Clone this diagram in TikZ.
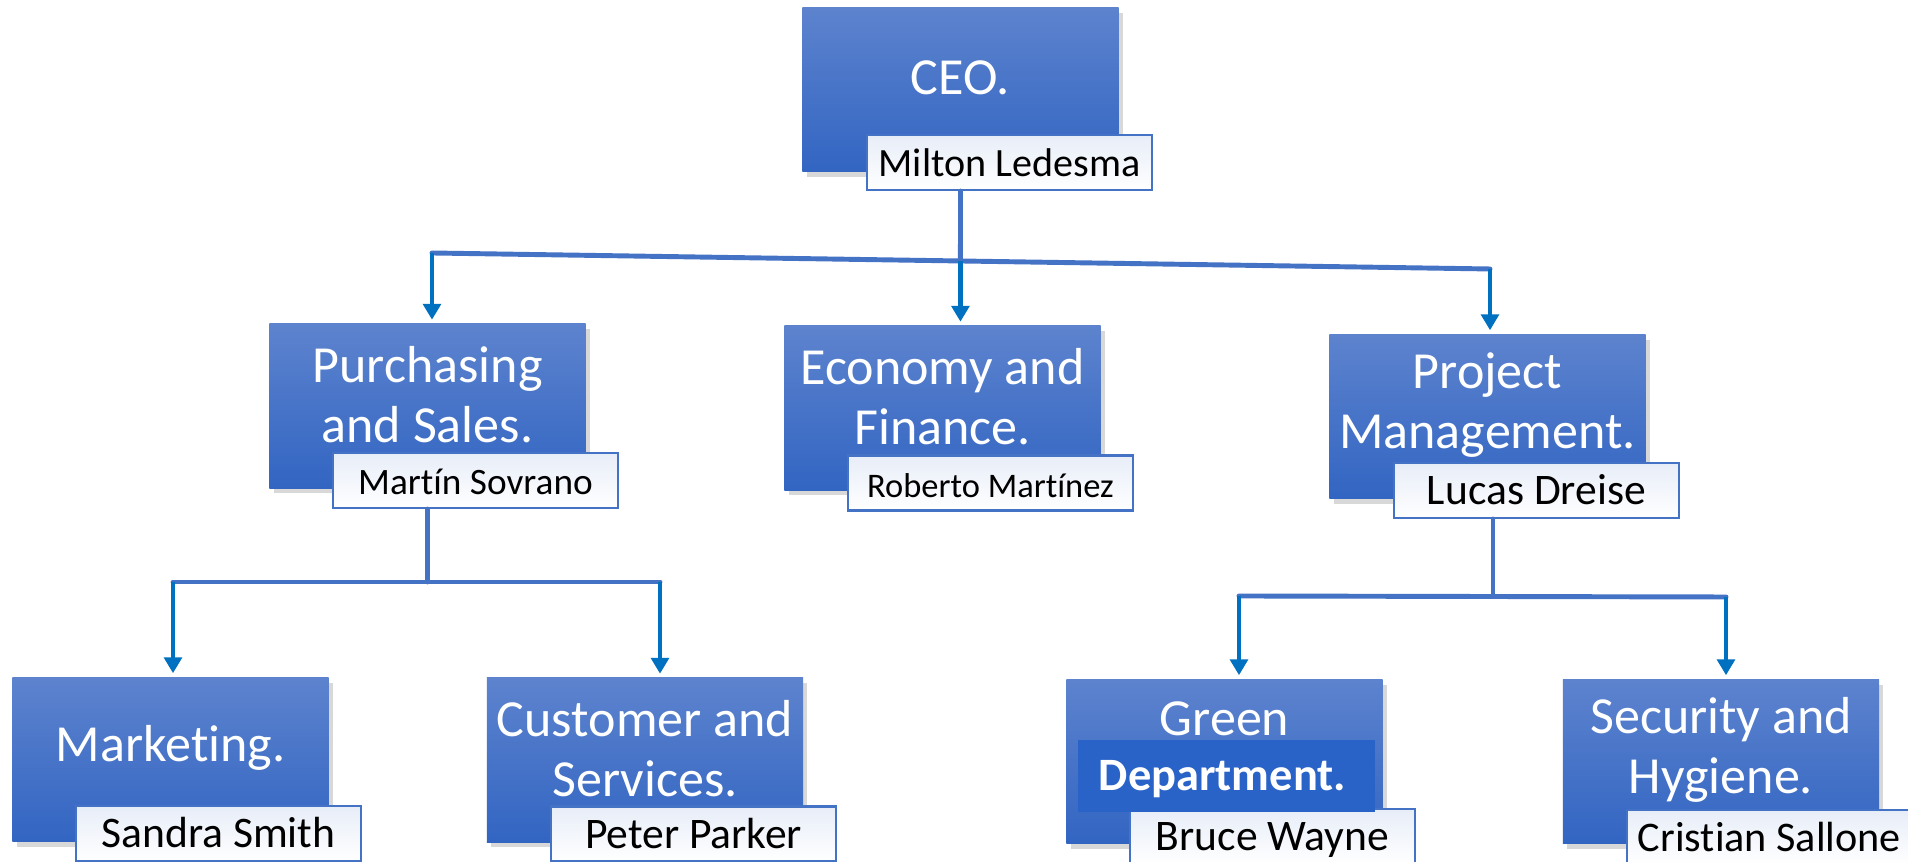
\documentclass[tikz,border=0pt]{standalone}
\usepackage{fontspec}
\setmainfont{Carlito}[Ligatures=NoCommon]
\usetikzlibrary{arrows.meta,shadows}

\definecolor{unittop}{RGB}{93,131,206}
\definecolor{unitbot}{RGB}{50,101,194}
\definecolor{nameline}{RGB}{68,114,196}
\definecolor{nametop}{RGB}{231,237,248}
\definecolor{linkblue}{RGB}{68,114,196}
\definecolor{arrowblue}{RGB}{0,112,192}
\definecolor{bandblue}{RGB}{42,99,199}

\tikzset{
  unit/.style={top color=unittop, bottom color=unitbot,
    minimum width=3.16cm, minimum height=1.64cm, inner sep=0pt,
    drop shadow={shadow xshift=1.2pt, shadow yshift=-1.5pt, opacity=0.3}},
  unittext/.style={text=white, align=center, font=\fontsize{14.8}{17.1}\selectfont},
  person/.style={draw=nameline, line width=0.6pt, top color=nametop, bottom color=white,
    minimum width=2.85cm, minimum height=0.55cm, inner sep=0pt,
    text height=8pt, text depth=0pt, font=\fontsize{12.4}{14}\selectfont},
  band/.style={fill=bandblue, text=white, minimum height=0.72cm,
    inner xsep=0.21cm, text width=2.55cm, align=left,
    text height=8.5pt, text depth=0pt, font=\fontsize{13.2}{15}\selectfont\bfseries},
  link/.style={draw=linkblue, line width=1.4pt, line cap=round, line join=round},
  arrow/.style={draw=arrowblue, line width=1.4pt, -{Triangle[width=5pt,length=4.5pt]}}
}

\begin{document}
\begin{tikzpicture}[x=0.01cm, y=-0.01cm]
  \fill[white] (0,0) rectangle (1908,862);
  \useasboundingbox (0,0) rectangle (1908,862);

  % units
  \node[unit] (ceo) at (960.5,89.5) {};
  \node[unit] (buy) at (427.5,406) {};
  \node[unit] (fin) at (942.5,408) {};
  \node[unit] (pm) at (1487.5,416.5) {};
  \node[unit] (mkt) at (170.5,759.5) {};
  \node[unit] (cust) at (645,760) {};
  \node[unit] (green) at (1224.5,761.5) {};
  \node[unit] (sec) at (1721,761.5) {};

  \node[unittext] (ceo-t) at ([yshift=3.2pt]ceo.center) {CEO.};
  \node[unittext] (buy-t) at ([yshift=3.2pt]buy.center) {Purchasing\\and Sales.};
  \node[unittext] (fin-t) at ([yshift=3.2pt]fin.center) {Economy and\\Finance.};
  \node[unittext] (pm-t) at ([yshift=3.2pt]pm.center) {Project\\Management.};
  \node[unittext] (mkt-t) at ([yshift=3.2pt]mkt.center) {Marketing.};
  \node[unittext] (cust-t) at ([yshift=3.2pt]cust.center) {Customer and\\Services.};
  \node[unittext, anchor=base] (green-t) at ([yshift=7.5pt]green.center) {Green};
  \node[unittext] (sec-t) at ([yshift=3.2pt]sec.center) {Security and\\Hygiene.};

  % people
  \node[person, font=\fontsize{11.4}{13}\selectfont] (milton) at (1009.5,162.5) {Milton Ledesma};
  \node[person, font=\fontsize{10.6}{12}\selectfont] (martin) at (475.5,480.5) {Martín Sovrano};
  \node[person, font=\fontsize{9.8}{11}\selectfont] (roberto) at (990.5,483) {Roberto Martínez};
  \node[person] (lucas) at (1536.5,490.5) {Lucas Dreise};
  \node[person] (sandra) at (218.5,833.5) {Sandra Smith};
  \node[person] (peter) at (693.5,834) {Peter Parker};
  \node[person] (bruce) at (1272.5,836.5) {Bruce Wayne};
  \node[person, font=\fontsize{12}{14}\selectfont] (cristian) at (1769.5,837.5) {Cristian Sallone};

  \node[band] (dept) at (1226.5,776) {Department.};

  % top level
  \coordinate (busL) at (432,253);
  \coordinate (busR) at (1490,269);
  \coordinate (busC) at (intersection of busL--busR and ceo.north--ceo.south);
  \draw[link] (ceo.center |- milton.south) -- (busC);
  \draw[link] (busL) -- (busR);
  \draw[arrow] (busL) -- ([yshift=1pt]busL |- buy.north);
  \draw[arrow] (busC) -- ([yshift=1pt]busC |- fin.north);
  \draw[arrow] (busR) -- ([yshift=1pt]busR |- pm.north);

  % purchasing
  \coordinate (buyL) at (173,582);
  \coordinate (buyR) at (660,582);
  \draw[link] (buy.center |- martin.south) -- (buy.center |- buyL);
  \draw[link] (buyL) -- (buyR);
  \draw[arrow] (buyL) -- ([yshift=1pt]buyL |- mkt.north);
  \draw[arrow] (buyR) -- ([yshift=1pt]buyR |- cust.north);

  % projects
  \coordinate (pmJ) at (1493,596);
  \coordinate (pmL) at (1239,596);
  \coordinate (pmR) at (1726,597);
  \draw[link] (pmJ |- lucas.south) -- (pmJ);
  \draw[link] (pmL) -- (pmR);
  \draw[arrow] (pmL) -- ([yshift=1pt]pmL |- green.north);
  \draw[arrow] (pmR) -- ([yshift=1pt]pmR |- sec.north);
\end{tikzpicture}
\end{document}
